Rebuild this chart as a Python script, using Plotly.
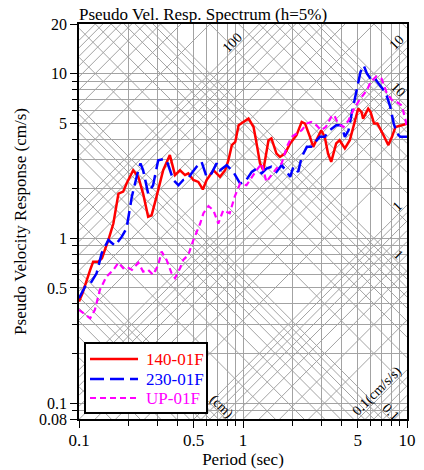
import math
import plotly.graph_objects as go

# ---------------- data ----------------
red_T = [0.1, 0.105, 0.117, 0.122, 0.131, 0.138, 0.151, 0.162, 0.174, 0.186, 0.195, 0.214, 0.23, 0.246,
         0.264, 0.277, 0.297, 0.326, 0.358, 0.385, 0.413, 0.443, 0.464, 0.498, 0.534, 0.569, 0.6, 0.66,
         0.724, 0.778, 0.815, 0.855, 0.897, 0.94, 1.08, 1.16, 1.21, 1.27, 1.33, 1.43, 1.49, 1.6, 1.68,
         1.8, 1.94, 2.12, 2.28, 2.39, 2.56, 2.68, 2.8, 3.0, 3.15, 3.3, 3.45, 3.7, 3.88, 4.18, 4.48, 4.8,
         5.04, 5.28, 5.4, 5.8, 6.0, 6.3, 6.6, 7.1, 7.7, 8.1, 8.5, 9.3, 10]
red_V = [0.413, 0.464, 0.643, 0.72, 0.72, 0.757, 0.976, 1.23, 1.87, 1.92, 2.15, 2.59, 2.36, 1.87,
         1.35, 1.38, 1.79, 2.59, 3.2, 2.42, 2.59, 2.42, 2.48, 2.26, 2.2, 1.98, 2.26, 2.59,
         2.36, 2.59, 2.98, 3.68, 3.85, 4.86, 5.33, 4.74, 3.77, 2.85, 2.59, 3.94, 4.04, 3.27, 3.12,
         3.27, 3.77, 4.23, 5.09, 4.97, 4.13, 3.59, 3.94, 4.53, 4.13, 3.27, 2.91, 3.77, 3.94, 3.51, 3.94, 5.2,
         6.13, 5.84, 5.33, 6.13, 5.84, 4.97, 4.97, 4.33, 3.68, 4.13, 4.74, 4.86, 4.97]

blue_T = [0.1, 0.109, 0.117, 0.128, 0.1375, 0.151, 0.166, 0.182, 0.195, 0.21, 0.226, 0.237, 0.246, 0.264,
          0.283, 0.304, 0.326, 0.342, 0.376, 0.404, 0.432, 0.464, 0.486, 0.521, 0.559, 0.6, 0.643, 0.69,
          0.724, 0.795, 0.873, 0.96, 1.03, 1.13, 1.21, 1.3, 1.39, 1.49, 1.6, 1.72, 1.85, 1.94, 2.03, 2.17,
          2.28, 2.45, 2.6, 2.8, 2.94, 3.15, 3.38, 3.7, 3.97, 4.18, 4.4, 4.6, 4.95, 5.2, 5.45, 5.7, 6.0,
          6.3, 6.6, 7.1, 7.5, 7.9, 8.3, 8.7, 9.1, 10]
blue_V = [0.433, 0.509, 0.528, 0.613, 0.811, 0.976, 0.902, 1.02, 1.15, 1.79, 2.42, 2.85, 2.59, 1.87,
          2.1, 2.98, 3.02, 2.98, 2.26, 2.1, 2.26, 2.31, 2.48, 2.72, 2.91, 2.36, 2.48, 2.85,
          2.59, 2.78, 2.53, 2.15, 2.2, 2.53, 2.65, 2.48, 2.65, 2.72, 2.53, 2.78, 2.53, 2.36, 2.72, 2.53,
          3.12, 3.59, 3.59, 3.94, 4.13, 4.13, 4.53, 4.86, 4.86, 4.13, 4.53, 5.7, 7.93, 10.2, 11.2, 10, 9.3,
          9.5, 8.9, 8.1, 7.4, 6.3, 4.97, 4.33, 4.13, 4.13]

mag_T = [0.1, 0.117, 0.125, 0.134, 0.147, 0.162, 0.174, 0.186, 0.195, 0.21, 0.23, 0.246, 0.264, 0.283,
         0.304, 0.319, 0.342, 0.367, 0.385, 0.413, 0.432, 0.464, 0.498, 0.548, 0.574, 0.616, 0.66, 0.707,
         0.758, 0.83, 0.89, 0.96, 1.05, 1.13, 1.21, 1.3, 1.39, 1.49, 1.6, 1.72, 1.85, 1.98, 2.12, 2.28,
         2.45, 2.6, 2.8, 3.0, 3.2, 3.45, 3.6, 3.8, 4.1, 4.4, 4.7, 5.2, 5.7, 6.0, 6.5, 7.0, 7.5, 8.1, 8.7,
         9.3, 9.8, 10]
mag_V = [0.368, 0.327, 0.368, 0.486, 0.585, 0.643, 0.711, 0.658, 0.673, 0.643, 0.711, 0.628, 0.643, 0.6,
         0.689, 0.83, 0.739, 0.613, 0.573, 0.658, 0.739, 0.792, 0.976, 1.23, 1.42, 1.57, 1.48, 1.23,
         1.48, 1.42, 1.79, 2.15, 2.1, 2.36, 2.59, 2.85, 2.2, 2.42, 2.65, 2.85, 3.59, 4.13, 4.33, 4.53,
         4.97, 5.09, 4.86, 4.53, 4.74, 5.45, 5.6, 4.97, 4.74, 5.2, 6.0, 7.06, 7.93, 8.9, 9.6, 9.3, 7.7, 6.9, 6.7,
         6.4, 5.2, 4.65]

series_names = ["140-01F", "230-01F", "UP-01F"]

x_tick_vals = [0.1, 0.5, 1, 5, 10]
x_tick_text = ["0.1", "0.5", "1", "5", "10"]
y_tick_vals = [0.08, 0.1, 0.5, 1, 5, 10, 20]
y_tick_text = ["0.08", "0.1", "0.5", "1", "5", "10", "20"]
x_minor_vals = [0.2, 0.3, 0.4, 0.6, 0.7, 0.8, 0.9, 2, 3, 4, 6, 7, 8, 9]
y_minor_vals = [0.09, 0.2, 0.3, 0.4, 0.6, 0.7, 0.8, 0.9, 2, 3, 4, 6, 7, 8, 9]

# tripartite grid values
disp_values = [m * 10 ** k for k in range(-3, 2) for m in range(1, 10)]   # cm
acc_values = [m * 10 ** k for k in range(-2, 4) for m in range(1, 10)]    # cm/s/s

# labels on diagonal lines: (family, value, period where label sits, text)
diag_labels = [
    ("A", 100, 0.9, "100"),
    ("A", 10, 9.0, "10"),
    ("A", 1, 9.1, "1"),
    ("A", 0.1, 6.9, "0.1(cm/s/s)"),
    ("D", 10, 8.45, "10"),
    ("D", 1, 8.45, "1"),
    ("D", 0.1, 7.7, "0.1"),
    ("D", 0.01, 0.71, "(cm)"),
]

T_RANGE = (0.1, 10)
V_RANGE = (0.08, 20)
TWO_PI = 2 * math.pi

FONT = "Liberation Serif, Times New Roman, serif"
GRID = "#a3a3a3"
W, H = 424, 470
ML, MR, MT, MB = 79, 17, 24, 51
PW, PH = W - ML - MR, H - MT - MB


def px_x(px):
    return (px - ML) / PW


def px_y(py):
    return (H - MB - py) / PH


fig = go.Figure()

# diagonal grid lines
gx, gy = [], []
for d in disp_values:
    gx += [T_RANGE[0], T_RANGE[1], None]
    gy += [TWO_PI * d / T_RANGE[0], TWO_PI * d / T_RANGE[1], None]
for a in acc_values:
    gx += [T_RANGE[0], T_RANGE[1], None]
    gy += [a * T_RANGE[0] / TWO_PI, a * T_RANGE[1] / TWO_PI, None]
fig.add_trace(go.Scatter(x=gx, y=gy, mode="lines", line=dict(color=GRID, width=1),
                         showlegend=False, hoverinfo="skip"))

styles = [
    dict(color="#ff0000", width=2.5, dash="solid"),
    dict(color="#0000ff", width=2.5, dash="14px,6px"),
    dict(color="#ff00ff", width=2.2, dash="6px,4px"),
]
for name, T, V, st in zip(series_names, [red_T, blue_T, mag_T], [red_V, blue_V, mag_V], styles):
    fig.add_trace(go.Scatter(x=T, y=V, mode="lines", line=st, name=name, showlegend=False))

annotations = []
for fam, val, t, txt in diag_labels:
    if fam == "A":
        v = val * t / TWO_PI
        ang = -45
        xs, ys = -3, 5
    else:
        v = TWO_PI * val / t
        ang = 45
        xs, ys = 3, 5
    annotations.append(dict(
        x=math.log10(t), y=math.log10(v), xref="x", yref="y", text=txt, showarrow=False,
        textangle=ang, xshift=xs, yshift=ys,
        font=dict(family=FONT, size=14, color="black")))

# hand-drawn legend box (matches the reference's longer line samples)
shapes = [dict(type="rect", xref="paper", yref="paper", layer="above",
               x0=px_x(85), x1=px_x(207), y0=px_y(413), y1=px_y(343),
               fillcolor="white", line=dict(color="black", width=2))]
legend_rows = [359, 379, 398]
for name, st, row in zip(series_names, styles, legend_rows):
    shapes.append(dict(type="line", xref="paper", yref="paper", layer="above",
                       x0=px_x(90), x1=px_x(138), y0=px_y(row), y1=px_y(row),
                       line=dict(color=st["color"], width=st["width"], dash=st["dash"])))
    annotations.append(dict(xref="paper", yref="paper", x=px_x(144), y=px_y(row),
                            xanchor="left", yanchor="middle", text=name, showarrow=False,
                            font=dict(family=FONT, size=17, color=st["color"])))

fig.update_layout(
    width=W, height=H,
    margin=dict(l=ML, r=MR, t=MT, b=MB),
    paper_bgcolor="white", plot_bgcolor="white",
    title=dict(text="Pseudo Vel. Resp. Spectrum (h=5%)", x=ML / W, xanchor="left",
               y=1 - 14 / H, yanchor="middle", font=dict(family=FONT, size=17, color="black"),
               automargin=False),
    font=dict(family=FONT, size=17, color="black"),
    showlegend=False,
    annotations=annotations,
    shapes=shapes,
)

fig.update_xaxes(
    type="log", range=[math.log10(T_RANGE[0]), math.log10(T_RANGE[1])],
    tickmode="array", tickvals=x_tick_vals, ticktext=x_tick_text,
    ticks="outside", ticklen=7, tickwidth=1.2, tickcolor="black",
    showgrid=True, gridcolor=GRID, gridwidth=1,
    minor=dict(tickmode="array", tickvals=x_minor_vals, ticks="outside", ticklen=5,
               tickcolor="black", showgrid=True, gridcolor=GRID, gridwidth=1),
    showline=True, linecolor="black", linewidth=1.5, mirror=True,
    zeroline=False, automargin=False, ticklabelstandoff=-2,
    tickfont=dict(family=FONT, size=17, color="black"),
    title=dict(text="Period (sec)", font=dict(family=FONT, size=17, color="black"), standoff=0),
)
fig.update_yaxes(
    type="log", range=[math.log10(V_RANGE[0]), math.log10(V_RANGE[1])],
    tickmode="array", tickvals=y_tick_vals, ticktext=y_tick_text,
    ticks="outside", ticklen=7, tickwidth=1.2, tickcolor="black",
    showgrid=True, gridcolor=GRID, gridwidth=1,
    minor=dict(tickmode="array", tickvals=y_minor_vals, ticks="outside", ticklen=5,
               tickcolor="black", showgrid=True, gridcolor=GRID, gridwidth=1),
    showline=True, linecolor="black", linewidth=1.5, mirror=True,
    zeroline=False, automargin=False,
    tickfont=dict(family=FONT, size=16, color="black"),
    title=dict(text="Pseudo Velocity Response (cm/s)", font=dict(family=FONT, size=17, color="black"),
               standoff=8),
)

fig.write_html("out.html", config={"displayModeBar": False},
               post_script="document.body.style.margin='0px';document.body.style.overflow='hidden';")
